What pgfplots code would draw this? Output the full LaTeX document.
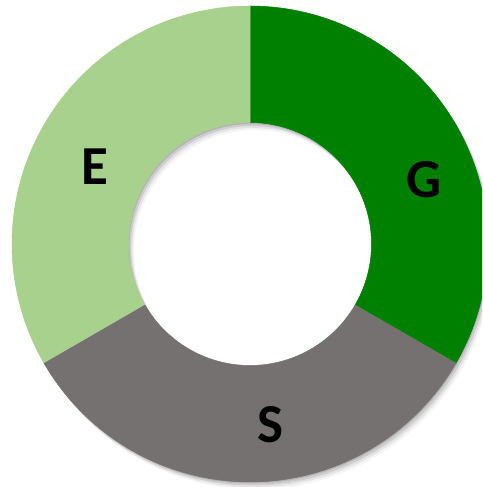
\documentclass[border=0pt]{standalone}
\usepackage{pgfplots}
\pgfplotsset{compat=1.18}
\usepackage{pgfplotstable}
\usepackage{fontspec}
\setmainfont{Carlito}
\definecolor{gcol}{HTML}{008000}
\definecolor{scol}{HTML}{767171}
\definecolor{ecol}{HTML}{A9D18E}

\pgfplotstableread{
label value
G 1
S 1
E 1
}\datatable

\pgfplotstablegetelem{0}{value}\of\datatable \let\vG\pgfplotsretval
\pgfplotstablegetelem{1}{value}\of\datatable \let\vS\pgfplotsretval
\pgfplotstablegetelem{2}{value}\of\datatable \let\vE\pgfplotsretval
\pgfmathsetmacro{\tot}{\vG+\vS+\vE}
\pgfmathsetmacro{\aA}{90}
\pgfmathsetmacro{\aB}{\aA-360*\vG/\tot}
\pgfmathsetmacro{\aC}{\aB-360*\vS/\tot}
\pgfmathsetmacro{\aD}{\aC-360*\vE/\tot}

\def\cx{250}
\def\cy{243}
\def\Ro{238}
\def\Ri{121.5}

% #1 start angle, #2 end angle, #3 options, #4 dx, #5 dy
% t = 0..80 : outer arc from #1 to #2 ; t = 81..161 : inner arc from #2 back to #1
\newcommand{\donutwedge}[5]{%
\addplot[#3, samples=162, domain=0:161, variable=\t]
 ({\cx+#4+(\t<80.5 ? \Ro*cos(#1+(#2-#1)*\t/80) : \Ri*cos(#2-(#2-#1)*(\t-81)/80))},
  {\cy+#5+(\t<80.5 ? \Ro*sin(#1+(#2-#1)*\t/80) : \Ri*sin(#2-(#2-#1)*(\t-81)/80))});
}

\begin{document}
\begin{tikzpicture}
\begin{axis}[hide axis, scale only axis, width=482pt, height=487pt,
  xmin=0, xmax=482, ymin=0, ymax=487, clip=true]
% soft shadow
\donutwedge{0}{360}{draw=none, fill=black, fill opacity=0.12}{1}{-1.5}
\donutwedge{0}{360}{draw=none, fill=black, fill opacity=0.10}{2.5}{-3.5}
\donutwedge{0}{360}{draw=none, fill=black, fill opacity=0.07}{4}{-5.5}
\donutwedge{0}{360}{draw=none, fill=black, fill opacity=0.04}{5.5}{-7.5}
% segments
\donutwedge{\aA}{\aB}{fill=gcol, draw=gcol, line width=0.5pt}{0}{0}
\donutwedge{\aB}{\aC}{fill=scol, draw=scol, line width=0.5pt}{0}{0}
\donutwedge{\aC}{\aD}{fill=ecol, draw=ecol, line width=0.5pt}{0}{0}
% labels
\node[font=\fontsize{55}{55}\selectfont\bfseries] at (axis cs:94.5,320.5) {E};
\node[font=\fontsize{55}{55}\selectfont\bfseries] at (axis cs:424,307) {G};
\node[font=\fontsize{55}{55}\selectfont\bfseries] at (axis cs:270,62.5) {S};
\end{axis}
\pgfresetboundingbox
\path (current axis.south west) rectangle (current axis.north east);
\end{tikzpicture}
\end{document}
